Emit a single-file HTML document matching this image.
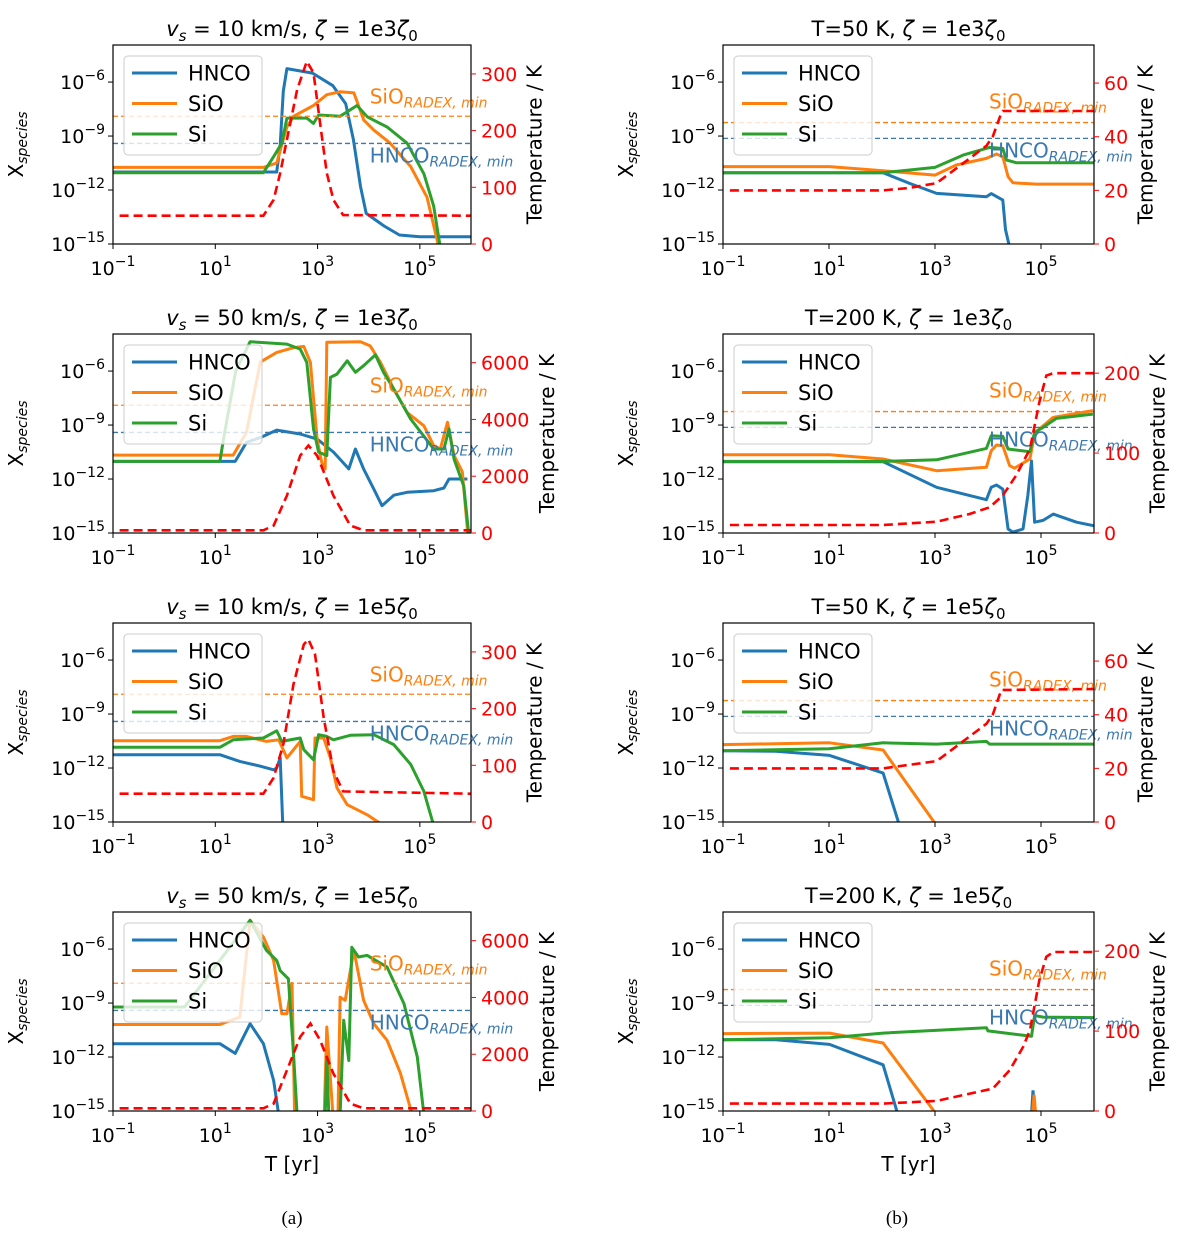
<!DOCTYPE html>
<html><head><meta charset="utf-8"><title>Chemistry panels</title>
<style>
html,body{margin:0;padding:0;background:#fff;}
svg{display:block;font-family:"DejaVu Sans","Liberation Sans",sans-serif;}
</style></head>
<body>
<svg id="fig" width="1200" height="1236" viewBox="0 0 1200 1236" xmlns="http://www.w3.org/2000/svg"></svg>
<script>
// ---- data: [log10 t(yr), log10 X] and [log10 t, T(K)] ----
const xTickExp = [-1, 1, 3, 5];
const yTickExp = [-15, -12, -9, -6];
const tTicksLow = [0, 100, 200, 300];
const tTicksHigh = [0, 2000, 4000, 6000];
const tTicksCold = [0, 20, 40, 60];
const tTicksWarm = [0, 100, 200];

const L1_hnco = [[-1,-11.0],[2.2,-11.0],[2.27,-9.5],[2.33,-6.5],[2.4,-5.25],[2.9,-5.5],[3.3,-6.2],[3.55,-7.2],[3.7,-9.2],[3.84,-11.8],[3.95,-13.3],[4.3,-14.0],[4.6,-14.5],[5.0,-14.6],[6,-14.6]];
const L1_sio = [[-1,-10.74],[1.94,-10.74],[2.2,-10.5],[2.4,-8.5],[2.53,-7.9],[2.92,-7.3],[3.18,-6.7],[3.44,-6.54],[3.71,-6.6],[3.9,-8.1],[4.1,-8.67],[4.42,-9.4],[4.82,-10.7],[5.14,-12.4],[5.34,-14.8],[5.37,-15.2]];
const L1_si = [[-1,-11.04],[1.94,-11.04],[2.14,-10.15],[2.3,-9.4],[2.4,-8.0],[2.79,-8.0],[2.92,-8.3],[3.02,-7.83],[3.44,-7.9],[3.77,-7.3],[3.97,-7.93],[4.36,-8.5],[4.75,-9.4],[5.08,-11.1],[5.27,-12.9],[5.4,-15.2]];
const L1_temp = [[-0.87,50],[1.94,50],[2.14,78],[2.27,125],[2.4,184],[2.6,272],[2.79,322],[2.92,302],[3.05,213],[3.18,125],[3.31,78],[3.5,51],[6,50]];

const L2_hnco = [[-1,-11.02],[1.39,-11.02],[1.61,-9.96],[1.88,-9.7],[2.2,-9.28],[2.66,-9.5],[2.99,-9.78],[3.31,-10.5],[3.61,-11.44],[3.74,-10.33],[3.9,-11.44],[4.1,-12.56],[4.26,-13.48],[4.49,-12.9],[4.75,-12.74],[5.27,-12.65],[5.47,-12.5],[5.57,-12.0],[5.93,-12.0]];
const L2_sio = [[-1,-10.67],[1.35,-10.67],[1.61,-9.4],[1.88,-5.5],[2.2,-4.96],[2.53,-4.7],[2.73,-4.63],[2.86,-5.52],[2.99,-9.78],[3.08,-11.07],[3.15,-11.44],[3.18,-4.4],[3.84,-4.37],[4.03,-4.6],[4.23,-5.52],[4.49,-7.0],[4.75,-8.3],[5.08,-9.04],[5.27,-10.15],[5.4,-10.33],[5.54,-8.85],[5.67,-10.7],[5.83,-11.6],[5.93,-14.8],[5.95,-15.2]];
const L2_si = [[-1,-11.02],[1.09,-11.02],[1.16,-9.78],[1.4,-6.0],[1.68,-4.37],[2.4,-4.5],[2.66,-4.78],[2.79,-5.52],[2.92,-9.22],[3.02,-10.5],[3.18,-10.7],[3.25,-6.35],[3.38,-6.17],[3.58,-5.43],[3.74,-6.07],[3.9,-5.7],[4.13,-5.1],[4.29,-6.07],[4.49,-7.0],[4.82,-8.67],[5.27,-10.33],[5.47,-10.33],[5.57,-9.22],[5.67,-10.9],[5.86,-12.4],[5.96,-15.2]];
const L2_temp = [[-0.87,94],[1.94,94],[2.14,259],[2.4,1317],[2.66,2728],[2.82,3081],[2.99,2728],[3.31,1317],[3.64,259],[3.9,94],[6,94]];

const L3_hnco = [[-1,-11.26],[1.09,-11.26],[1.48,-11.63],[1.88,-11.9],[2.14,-12.1],[2.2,-12.0],[2.27,-11.44],[2.32,-15.2]];
const L3_sio = [[-1,-10.48],[1.09,-10.48],[1.35,-10.24],[1.61,-10.24],[2.0,-10.52],[2.24,-10.43],[2.4,-11.44],[2.66,-10.52],[2.69,-13.57],[2.92,-13.76],[2.95,-10.33],[3.12,-10.33],[3.25,-11.44],[3.38,-13.11],[3.58,-14.04],[3.97,-14.6],[4.29,-15.2]];
const L3_si = [[-1,-10.85],[1.09,-10.85],[1.35,-10.43],[1.94,-10.33],[2.2,-9.93],[2.3,-10.52],[2.66,-10.33],[2.73,-10.98],[2.92,-11.54],[3.02,-10.15],[3.18,-10.24],[3.31,-10.43],[3.64,-10.18],[4.1,-10.15],[4.49,-10.7],[4.82,-11.8],[5.08,-13.3],[5.27,-15.2]];
const L3_temp = [[-0.87,50],[1.94,50],[2.14,78],[2.33,137],[2.53,243],[2.73,313],[2.82,322],[2.95,296],[3.12,184],[3.31,90],[3.5,54],[6,50]];

const L4_hnco = [[-1,-11.26],[1.09,-11.26],[1.39,-11.8],[1.68,-10.15],[1.94,-11.26],[2.14,-13.3],[2.24,-15.2]];
const L4_sio = [[-1,-10.19],[1.09,-10.19],[1.48,-9.78],[1.68,-4.4],[1.94,-5.33],[2.14,-6.63],[2.3,-9.6],[2.4,-9.6],[2.5,-7.9],[2.55,-15.2],[3.13,-15.2],[3.18,-10.33],[3.3,-15.2],[3.4,-15.2],[3.44,-8.67],[3.54,-8.85],[3.71,-6.07],[3.9,-8.85],[4.1,-10.15],[4.36,-11.07],[4.62,-12.9],[4.85,-15.2]];
const L4_si = [[-1,-9.22],[0.4,-9.22],[1.68,-4.4],[2.0,-6.07],[2.2,-6.63],[2.27,-7.2],[2.43,-7.65],[2.53,-11.8],[2.6,-15.2],[3.15,-15.2],[3.18,-12.0],[3.22,-15.2],[3.44,-15.2],[3.51,-9.96],[3.61,-12.2],[3.67,-5.9],[3.8,-6.44],[3.97,-6.35],[4.36,-7.0],[4.69,-9.04],[4.95,-12.0],[5.08,-15.2]];
const L4_temp = [[-0.87,94],[1.94,94],[2.14,259],[2.4,1435],[2.66,2611],[2.86,3081],[3.05,2493],[3.31,1317],[3.64,259],[3.9,94],[6,94]];

const R1_hnco = [[-1,-11.04],[2.02,-11.04],[2.52,-11.63],[3.03,-12.19],[3.97,-12.37],[4.06,-12.2],[4.28,-12.56],[4.33,-14.2],[4.41,-15.2]];
const R1_sio = [[-1,-10.7],[1.01,-10.7],[2.02,-10.93],[3.0,-11.17],[3.4,-10.61],[3.97,-10.24],[4.16,-10.0],[4.28,-10.15],[4.38,-11.26],[4.47,-11.6],[4.91,-11.67],[6,-11.67]];
const R1_si = [[-1,-11.04],[2.02,-11.04],[3.0,-10.74],[3.53,-10.06],[4.03,-9.63],[4.28,-9.69],[4.35,-10.33],[4.53,-10.48],[6,-10.48]];
const R1_temp = [[-0.87,20],[2.02,20],[2.52,20.9],[3.03,22.7],[3.53,30.1],[3.97,36.6],[4.09,40.1],[4.25,48.8],[4.28,49.6],[6,49.6]];

const R2_hnco = [[-1,-11.04],[2.02,-11.04],[3.03,-12.46],[3.97,-13.15],[4.06,-12.46],[4.16,-12.33],[4.28,-12.56],[4.38,-14.78],[4.47,-14.95],[4.66,-14.78],[4.75,-12.93],[4.82,-11.0],[4.88,-14.4],[5.04,-14.3],[5.23,-13.95],[5.67,-14.4],[6,-14.6]];
const R2_sio = [[-1,-10.65],[1.01,-10.65],[2.02,-10.89],[3.03,-11.54],[3.97,-11.35],[4.06,-10.43],[4.16,-10.11],[4.28,-10.15],[4.41,-11.26],[4.5,-11.4],[4.79,-10.89],[4.88,-9.5],[4.97,-9.22],[5.23,-8.57],[5.98,-8.2]];
const R2_si = [[-1,-11.02],[2.02,-11.02],[3.03,-10.93],[3.97,-10.3],[4.06,-9.6],[4.28,-9.63],[4.38,-10.33],[4.79,-10.48],[4.88,-9.4],[5.04,-9.13],[5.29,-8.63],[5.98,-8.39]];
const R2_temp = [[-0.87,10],[2.02,10],[3.03,14.2],[3.65,23.8],[4.03,32.2],[4.28,46.9],[4.53,72],[4.79,105],[4.97,164],[5.1,197],[5.23,200],[6,200]];

const R3_hnco = [[-1,-11.04],[0.0,-11.07],[1.01,-11.3],[2.02,-12.28],[2.33,-15.2]];
const R3_sio = [[-1,-10.7],[1.01,-10.6],[2.02,-11.0],[3.03,-15.2]];
const R3_si = [[-1,-11.04],[1.01,-10.93],[2.02,-10.6],[3.03,-10.67],[3.97,-10.52],[4.03,-10.67],[6,-10.67]];
const R3_temp = [[-0.87,20],[2.02,20],[3.03,22.7],[3.53,30.1],[3.97,36.6],[4.09,40.1],[4.25,49.2],[6,49.6]];

const R4_hnco = [[-1,-11.04],[0.0,-11.04],[1.01,-11.3],[2.02,-12.43],[2.3,-15.2]];
const R4_hnco_spike = [[4.82,-15.2],[4.85,-13.85],[4.88,-15.2]];
const R4_sio = [[-1,-10.7],[1.01,-10.67],[2.02,-11.22],[3.03,-15.2]];
const R4_sio_spike = [[4.84,-15.2],[4.87,-14.1],[4.9,-15.2]];
const R4_si = [[-1,-11.04],[1.01,-10.93],[2.02,-10.67],[3.97,-10.37],[4.0,-10.55],[4.82,-10.85],[4.88,-9.69],[5.04,-9.78],[6,-9.81]];
const R4_temp = [[-0.87,9.2],[2.02,9.2],[3.03,12.6],[4.09,28],[4.41,51],[4.66,80],[4.79,101],[4.97,164],[5.1,193],[5.23,199],[6,199]];

const radexLeft = [-7.9, -9.41];
const radexRight = [-8.25, -9.13];

const C = {hnco:'#1f77b4', sio:'#ff7f0e', si:'#2ca02c', t:'#ff0000'};
const NS = 'http://www.w3.org/2000/svg';
const svg = document.getElementById('fig');

function mk(tag, attrs, parent){
  const e = document.createElementNS(NS, tag);
  for (const k in attrs) e.setAttribute(k, attrs[k]);
  (parent||svg).appendChild(e);
  return e;
}

const tops = [45, 334, 623, 912];
const H = 199;
const panels = [
  {id:'l1', col:0, row:0, title:['v','s',' = 10 km/s, '], z:'1e3', tmax:351, tt:tTicksLow, d:[L1_hnco,L1_sio,L1_si], temp:L1_temp},
  {id:'l2', col:0, row:1, title:['v','s',' = 50 km/s, '], z:'1e3', tmax:7010, tt:tTicksHigh, d:[L2_hnco,L2_sio,L2_si], temp:L2_temp},
  {id:'l3', col:0, row:2, title:['v','s',' = 10 km/s, '], z:'1e5', tmax:351, tt:tTicksLow, d:[L3_hnco,L3_sio,L3_si], temp:L3_temp},
  {id:'l4', col:0, row:3, title:['v','s',' = 50 km/s, '], z:'1e5', tmax:7010, tt:tTicksHigh, d:[L4_hnco,L4_sio,L4_si], temp:L4_temp},
  {id:'r1', col:1, row:0, title:'T=50 K, ', z:'1e3', tmax:74.2, tt:tTicksCold, d:[R1_hnco,R1_sio,R1_si], temp:R1_temp},
  {id:'r2', col:1, row:1, title:'T=200 K, ', z:'1e3', tmax:249, tt:tTicksWarm, d:[R2_hnco,R2_sio,R2_si], temp:R2_temp},
  {id:'r3', col:1, row:2, title:'T=50 K, ', z:'1e5', tmax:74.2, tt:tTicksCold, d:[R3_hnco,R3_sio,R3_si], temp:R3_temp},
  {id:'r4', col:1, row:3, title:'T=200 K, ', z:'1e5', tmax:249, tt:tTicksWarm, d:[R4_hnco,R4_sio,R4_si], temp:R4_temp, extra:[[R4_hnco_spike,'hnco'],[R4_sio_spike,'sio']]}
];

panels.forEach(p=>{
  const x0 = p.col===0 ? 113 : 723, x1 = p.col===0 ? 471 : 1094;
  const y0 = tops[p.row], y1 = y0 + H;
  const xs = lt => x0 + (lt+1)/7*(x1-x0);
  const ys = lx => y1 - (lx+15)/11.06*(y1-y0);
  const ts = T => y1 - T/p.tmax*(y1-y0);
  const g = mk('g', {});
  
  
  const cid = 'clip-'+p.id;
  const defs = mk('defs', {}, g);
  const cp = mk('clipPath', {id:cid}, defs);
  mk('rect', {x:x0, y:y0, width:x1-x0, height:y1-y0}, cp);

  // title
  const tt = mk('text', {x:(x0+x1)/2, y:y0-9, 'text-anchor':'middle', 'font-size':21, fill:'#000'}, g);
  
  
  if (Array.isArray(p.title)) {
    mk('tspan', {'font-style':'italic'}, tt).textContent = 'v';
    mk('tspan', {'font-size':15, 'font-style':'italic', dy:5}, tt).textContent = 's';
    mk('tspan', {dy:-5}, tt).textContent = p.title[2];
  } else {
    mk('tspan', {}, tt).textContent = p.title;
  }
  mk('tspan', {'font-style':'italic'}, tt).textContent = 'ζ';
  mk('tspan', {}, tt).textContent = ' = ' + p.z;
  mk('tspan', {'font-style':'italic'}, tt).textContent = 'ζ';
  mk('tspan', {'font-size':15, dy:5}, tt).textContent = '0';

  // species lines
  const lg = mk('g', {'clip-path':'url(#'+cid+')'}, g);
  const names = ['hnco','sio','si'];
  p.d.forEach((arr,i)=>{
    const pl = mk('polyline', {points:arr.map(q=>xs(q[0]).toFixed(1)+','+ys(q[1]).toFixed(1)).join(' '), fill:'none', stroke:C[names[i]], 'stroke-width':3, 'stroke-linejoin':'round'}, lg);
    
    
  });
  (p.extra||[]).forEach(e=>{
    const pl = mk('polyline', {points:e[0].map(q=>xs(q[0]).toFixed(1)+','+ys(q[1]).toFixed(1)).join(' '), fill:'none', stroke:C[e[1]], 'stroke-width':3}, lg);
    
    
  });

  // radex lines
  const rad = p.col===0 ? radexLeft : radexRight;
  const rs = mk('line', {x1:x0, x2:x1, y1:ys(rad[0]), y2:ys(rad[0]), stroke:C.sio, 'stroke-width':1.3, 'stroke-dasharray':'5,3'}, g);
  
  
  const rh = mk('line', {x1:x0, x2:x1, y1:ys(rad[1]), y2:ys(rad[1]), stroke:'#3a78b0', 'stroke-width':1.3, 'stroke-dasharray':'5,3'}, g);
  
  
  const lx = xs(4.02);
  const st = mk('text', {x:lx, y:ys(rad[0])-(p.col===0?13:14), 'font-size':20, fill:C.sio}, g);
  
  
  mk('tspan', {}, st).textContent = 'SiO';
  mk('tspan', {'font-size':14, 'font-style':'italic', dy:4}, st).textContent = 'RADEX, min';
  const ht = mk('text', {x:lx, y:ys(rad[1])+19, 'font-size':20, fill:'#3a78b0'}, g);
  
  
  mk('tspan', {}, ht).textContent = 'HNCO';
  mk('tspan', {'font-size':14, 'font-style':'italic', dy:4}, ht).textContent = 'RADEX, min';

  // legend
  const lgX = x0+11, lgY = y0+11;
  const leg = mk('g', {}, g);
  
  
  mk('rect', {x:lgX, y:lgY, width:138, height:99, rx:4, fill:'rgba(255,255,255,0.8)', stroke:'#cccccc', 'stroke-width':1}, leg);
  const labs = ['HNCO','SiO','Si'];
  labs.forEach((s,i)=>{
    const yy = lgY + 17 + i*30.5;
    const ln = mk('line', {x1:lgX+8, x2:lgX+53, y1:yy, y2:yy, stroke:C[names[i]], 'stroke-width':3}, leg);
    
    
    const tx = mk('text', {x:lgX+64, y:yy+7.5, 'font-size':21, fill:'#000'}, leg);
    
    
    tx.textContent = s;
  });

  // temperature
  const tl = mk('polyline', {points:p.temp.map(q=>xs(q[0]).toFixed(1)+','+ts(q[1]).toFixed(1)).join(' '), fill:'none', stroke:C.t, 'stroke-width':2.6, 'stroke-dasharray':'9,5', 'clip-path':'url(#'+cid+')'}, g);
  
  

  // frame
  const fr = mk('rect', {x:x0, y:y0, width:x1-x0, height:y1-y0, fill:'none', stroke:'#000', 'stroke-width':1.2}, g);
  
  

  // x ticks
  xTickExp.forEach(e=>{
    const x = xs(e);
    mk('line', {x1:x, x2:x, y1:y1, y2:y1+5, stroke:'#000', 'stroke-width':1}, g);
    const t = mk('text', {x:x, y:y1+31, 'text-anchor':'middle', 'font-size':19, fill:'#000'}, g);
    
    
    mk('tspan', {}, t).textContent = '10';
    mk('tspan', {'font-size':14, dy:-9}, t).textContent = (e<0?'−':'') + Math.abs(e);
  });
  // y ticks
  yTickExp.forEach(e=>{
    const y = ys(e);
    mk('line', {x1:x0-5, x2:x0, y1:y, y2:y, stroke:'#000', 'stroke-width':1}, g);
    const t = mk('text', {x:x0-8, y:y+7, 'text-anchor':'end', 'font-size':19, fill:'#000'}, g);
    
    
    mk('tspan', {}, t).textContent = '10';
    mk('tspan', {'font-size':14, dy:-9}, t).textContent = '−' + Math.abs(e);
  });
  // temperature ticks
  let maxDigits = 1;
  p.tt.forEach(v=>{
    const y = ts(v);
    mk('line', {x1:x1, x2:x1+5, y1:y, y2:y, stroke:C.t, 'stroke-width':1}, g);
    const t = mk('text', {x:x1+10, y:y+7, 'font-size':19, fill:C.t}, g);
    
    
    t.textContent = String(v);
    maxDigits = Math.max(maxDigits, String(v).length);
  });
  const tx = x1 + 34 + maxDigits*12.2;
  const tyl = mk('text', {x:tx, y:(y0+y1)/2, 'text-anchor':'middle', 'font-size':20, fill:'#000', transform:'rotate(-90 '+tx+' '+((y0+y1)/2)+')'}, g);
  
  
  tyl.textContent = 'Temperature / K';
  // y label
  const yx = x0 - 90;
  const yl = mk('text', {x:yx, y:(y0+y1)/2, 'text-anchor':'middle', 'font-size':20, fill:'#000', transform:'rotate(-90 '+yx+' '+((y0+y1)/2)+')'}, g);
  
  
  mk('tspan', {}, yl).textContent = 'X';
  mk('tspan', {'font-size':14, 'font-style':'italic', dy:4}, yl).textContent = 'species';
  // x label bottom row
  if (p.row===3) {
    const xl = mk('text', {x:(x0+x1)/2, y:y1+60, 'text-anchor':'middle', 'font-size':20, fill:'#000'}, g);
    
    
    xl.textContent = 'T [yr]';
  }
});

const ca = mk('text', {x:292, y:1224, 'text-anchor':'middle', 'font-size':19, 'font-family':'Liberation Serif, serif', fill:'#000'});


ca.textContent = '(a)';
const cb = mk('text', {x:897, y:1224, 'text-anchor':'middle', 'font-size':19, 'font-family':'Liberation Serif, serif', fill:'#000'});


cb.textContent = '(b)';
</script>
</body></html>
